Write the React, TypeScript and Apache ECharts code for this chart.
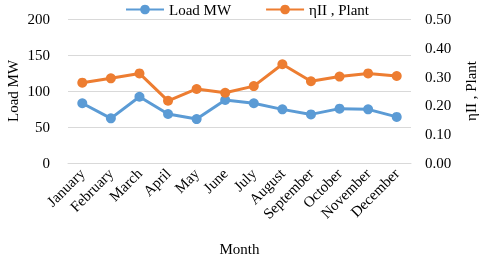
import React, { useEffect, useRef } from "react";
import * as echarts from "echarts";

const months = ["January","February","March","April","May","June","July","August","September","October","November","December"];
const loadMW = [83, 62, 92, 68, 61, 87.5, 83, 74.5, 67.5, 75.5, 74.5, 64];
const etaPlant = [0.279, 0.294, 0.311, 0.216, 0.257, 0.244, 0.267, 0.343, 0.284, 0.300, 0.311, 0.302];

const FONT = "'Liberation Serif', 'Times New Roman', serif";

export default function App() {
  const ref = useRef<HTMLDivElement>(null);
  useEffect(() => {
    const chart = echarts.init(ref.current!, null, { renderer: "svg" });
    chart.setOption({
      animation: false,
      textStyle: { fontFamily: FONT, color: "#000" },
      legend: {
        top: -3,
        left: 120,
        itemWidth: 38,
        itemHeight: 12,
        itemGap: 34,
        textStyle: { fontFamily: FONT, fontSize: 15, color: "#000" },
        data: ["Load MW", "ηII , Plant"],
      },
      grid: { left: 68, right: 69, top: 19, bottom: 93, containLabel: false, outerBoundsMode: "none" },
      xAxis: {
        type: "category",
        data: months,
        boundaryGap: true,
        name: "Month",
        nameLocation: "middle",
        nameGap: 78,
        nameMoveOverlap: false,
        nameTextStyle: { fontFamily: FONT, fontSize: 15, color: "#000" },
        axisLine: { lineStyle: { color: "#d9d9d9" } },
        axisTick: { show: false },
        axisLabel: { rotate: 45, fontFamily: FONT, fontSize: 15, color: "#000", margin: 8, interval: 0 },
      },
      yAxis: [
        {
          type: "value",
          min: 0,
          max: 200,
          interval: 50,
          name: "Load MW",
          nameLocation: "middle",
          nameGap: 48,
          nameRotate: 90,
          nameMoveOverlap: false,
          nameTextStyle: { fontFamily: FONT, fontSize: 15, color: "#000" },
          axisLine: { show: false },
          axisTick: { show: false },
          splitLine: { lineStyle: { color: "#d9d9d9", width: 1 } },
          axisLabel: { fontFamily: FONT, fontSize: 15, color: "#000", margin: 18 },
        },
        {
          type: "value",
          min: 0,
          max: 0.5,
          interval: 0.1,
          position: "right",
          name: "ηII , Plant",
          nameLocation: "middle",
          nameGap: 52,
          nameRotate: 90,
          nameMoveOverlap: false,
          nameTextStyle: { fontFamily: FONT, fontSize: 15, color: "#000" },
          axisLine: { show: false },
          axisTick: { show: false },
          splitLine: { show: false },
          axisLabel: {
            fontFamily: FONT, fontSize: 15, color: "#000", margin: 14,
            formatter: (v: number) => v.toFixed(2),
          },
        },
      ],
      series: [
        {
          name: "Load MW",
          type: "line",
          data: loadMW,
          yAxisIndex: 0,
          symbol: "circle",
          symbolSize: 10,
          lineStyle: { color: "#5B9BD5", width: 3 },
          itemStyle: { color: "#5B9BD5" },
        },
        {
          name: "ηII , Plant",
          type: "line",
          data: etaPlant,
          yAxisIndex: 1,
          symbol: "circle",
          symbolSize: 10,
          lineStyle: { color: "#ED7D31", width: 3 },
          itemStyle: { color: "#ED7D31" },
        },
      ],
    });
    return () => chart.dispose();
  }, []);
  return <div ref={ref} style={{ width: 480, height: 256, position: "fixed", left: 0, top: 0 }} />;
}
